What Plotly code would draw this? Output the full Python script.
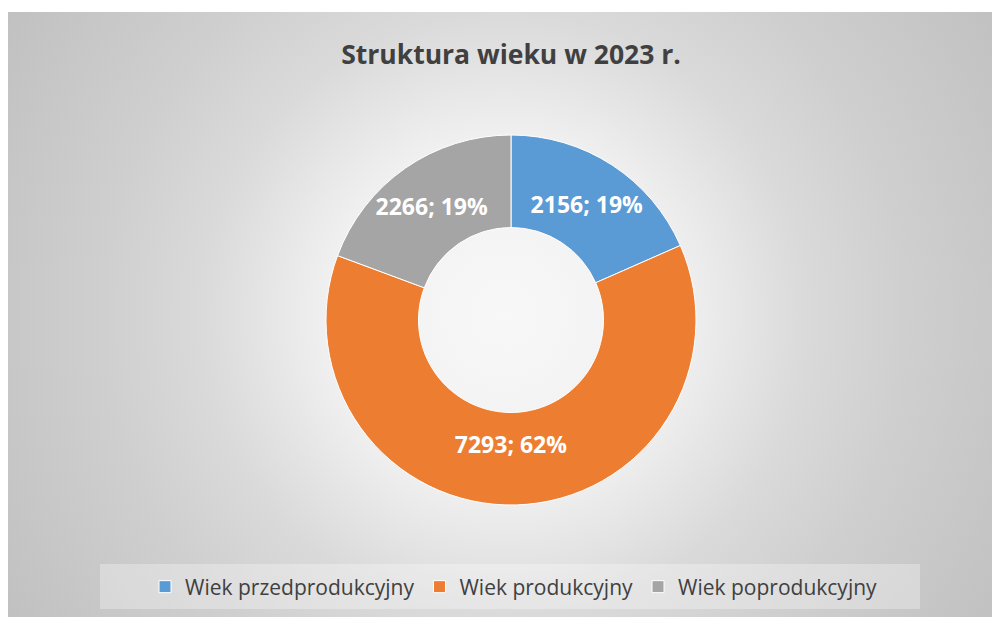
import base64
import plotly.graph_objects as go

# Data
categories = ["Wiek przedprodukcyjny", "Wiek produkcyjny", "Wiek poprodukcyjny"]
values = [2156, 7293, 2266]
pct_labels = ["19%", "62%", "19%"]
colors = ["#5B9BD5", "#ED7D31", "#A5A5A5"]
title_text = "Struktura wieku w 2023 r."

W, H = 1000, 617
OFF = 8  # page body margin
FONT = "Open Sans"

# radial gradient background (chart area style), in page pixels
bx0, by0 = 8, 12
bw, bh = 1000 - bx0, 617 - by0
svg = f'''<svg xmlns="http://www.w3.org/2000/svg" width="{bw}" height="{bh}" viewBox="0 0 {bw} {bh}">
<defs><radialGradient id="g" gradientUnits="userSpaceOnUse" cx="{bw/2}" cy="{bh/2}" r="590">
<stop offset="0" stop-color="#f8f8f8"/>
<stop offset="0.30" stop-color="#f0f0f0"/>
<stop offset="0.34" stop-color="#ececec"/>
<stop offset="0.51" stop-color="#dadada"/>
<stop offset="0.68" stop-color="#cfcfcf"/>
<stop offset="1" stop-color="#c0c0c0"/>
</radialGradient></defs>
<rect x="0" y="0" width="{bw}" height="{bh}" fill="url(#g)"/>
</svg>'''
svg_uri = "data:image/svg+xml;base64," + base64.b64encode(svg.encode()).decode()

def px(x):
    return (x - OFF) / W

def py(y):
    return 1 - (y - OFF) / H

fig = go.Figure(
    go.Pie(
        labels=categories,
        values=values,
        customdata=pct_labels,
        texttemplate="%{value}; %{customdata}",
        textposition="inside",
        insidetextorientation="horizontal",
        textfont=dict(family=FONT, size=23, color="white", weight="bold"),
        marker=dict(colors=colors, line=dict(color="white", width=1)),
        hole=0.5,
        sort=False,
        direction="clockwise",
        rotation=0,
        domain=dict(x=[px(326), px(696)], y=[py(505), py(135)]),
        hoverinfo="label+value+percent",
    )
)

fig.update_layout(
    width=W,
    height=H,
    margin=dict(l=0, r=0, t=0, b=0),
    paper_bgcolor="white",
    plot_bgcolor="rgba(0,0,0,0)",
    uniformtext=dict(minsize=23, mode="show"),
    title=dict(
        text=title_text,
        x=px(511),
        xanchor="center",
        xref="paper",
        y=py(55),
        yanchor="middle",
        yref="paper",
        font=dict(family=FONT, size=26.5, color="#404040", weight="bold"),
    ),
    legend=dict(
        orientation="h",
        x=px(514),
        xanchor="center",
        y=py(587),
        yanchor="middle",
        bgcolor="rgba(0,0,0,0)",
        font=dict(family=FONT, size=21, color="#404040"),
        traceorder="normal",
    ),
    images=[
        dict(
            source=svg_uri,
            xref="paper",
            yref="paper",
            x=px(bx0),
            y=py(by0),
            sizex=bw / W,
            sizey=bh / H,
            xanchor="left",
            yanchor="top",
            sizing="stretch",
            layer="below",
        )
    ],
    shapes=[
        dict(
            type="rect",
            xref="paper",
            yref="paper",
            x0=px(100),
            x1=px(920),
            y0=py(609),
            y1=py(564),
            fillcolor="rgba(255,255,255,0.3)",
            line=dict(width=0),
            layer="below",
        )
    ],
)

fig.write_html("out.html")
